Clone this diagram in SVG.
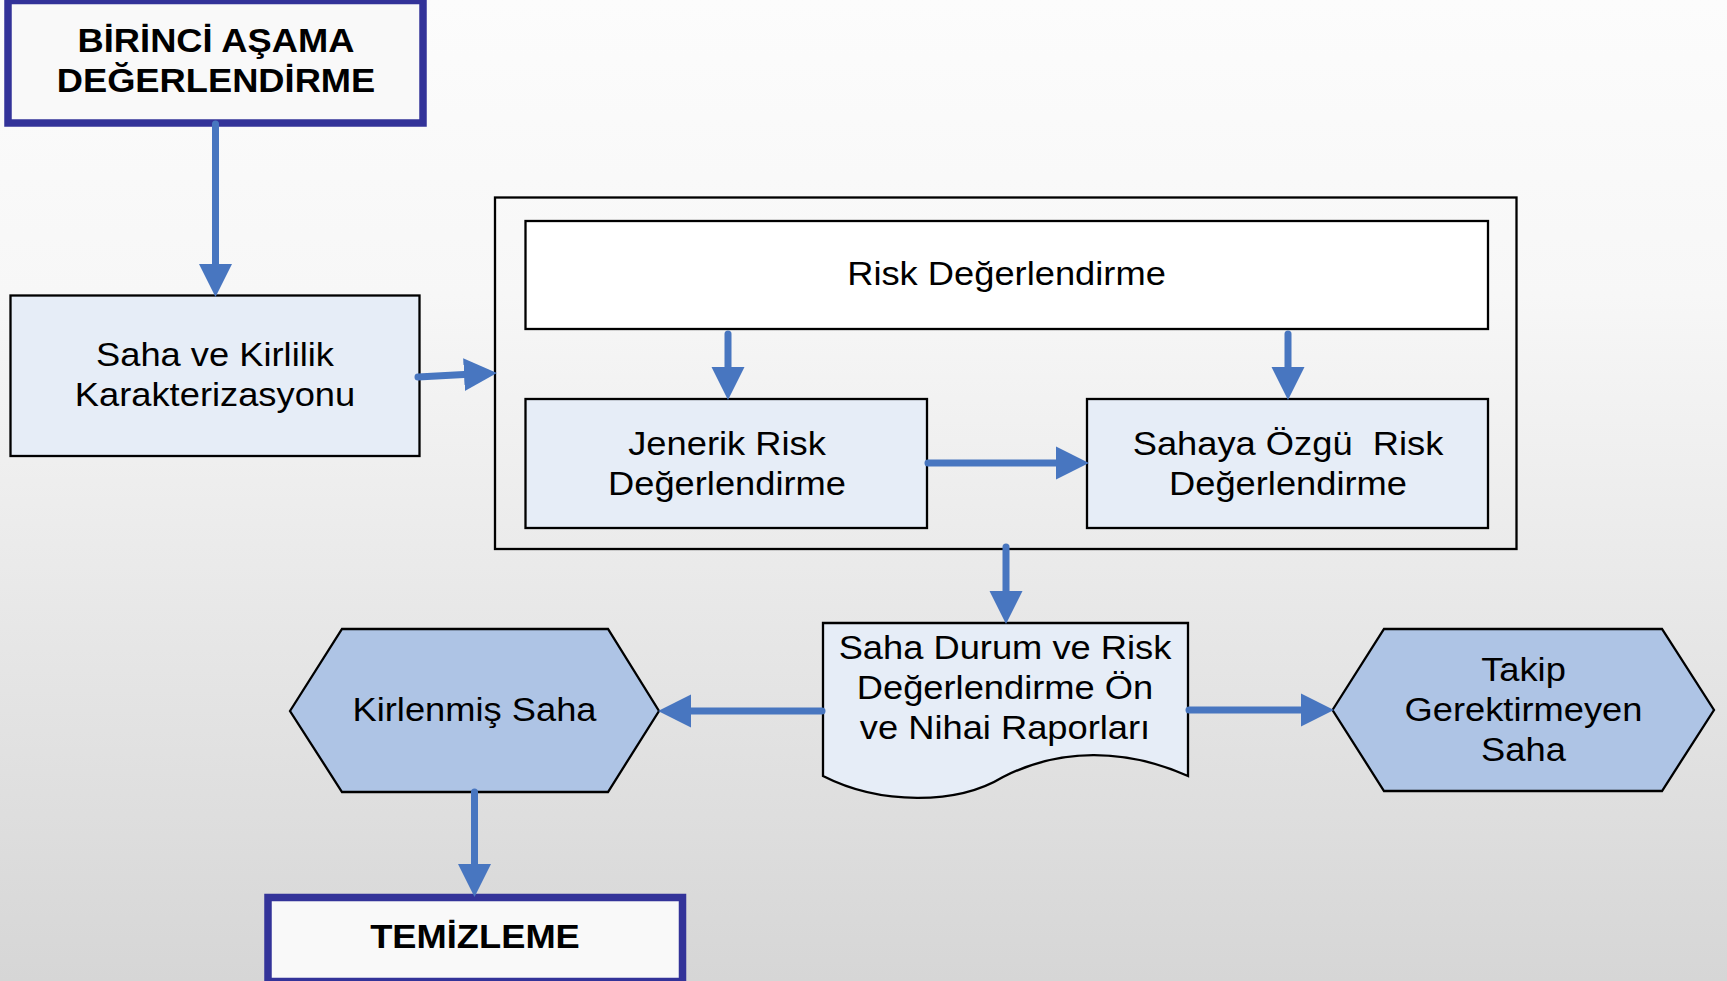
<svg xmlns="http://www.w3.org/2000/svg" width="1727" height="981" viewBox="0 0 1727 981">
<defs>
<linearGradient id="bg" x1="0" y1="0" x2="0" y2="1">
<stop offset="0" stop-color="#fcfcfc"/>
<stop offset="0.3" stop-color="#f7f7f7"/>
<stop offset="1" stop-color="#d6d6d6"/>
</linearGradient>
<marker id="ah" markerUnits="userSpaceOnUse" markerWidth="34" markerHeight="34" viewBox="0 -16 32 32" refX="0" refY="0" orient="auto">
<path d="M0,-15.5 L31,0 L0,15.5 Z" fill="#4876c0"/>
</marker>
<style>
.t{font-family:"Liberation Sans",Arial,sans-serif;font-size:32.5px;fill:#000;text-anchor:middle;white-space:pre}
.b{font-weight:bold}
.main{fill:#f9f9f9;stroke:#333399;stroke-width:7.5}
.box{fill:#e6edf7;stroke:#000;stroke-width:2.3}
.white{fill:#ffffff;stroke:#000;stroke-width:2.3}
.cont{fill:none;stroke:#000;stroke-width:2.3}
.hex{fill:#aec4e5;stroke:#000;stroke-width:2.3;stroke-linejoin:miter}
.c{fill:none;stroke:#4876c0;stroke-width:7;stroke-linecap:round;marker-end:url(#ah)}
</style>
</defs>
<rect x="0" y="0" width="1727" height="981" fill="url(#bg)"/>

<g id="container">
<rect class="cont" x="495" y="197.5" width="1021.5" height="351.5"/>
</g>

<g id="birinci">
<rect class="main" x="8" y="0.5" width="415" height="122.5"/>
<text class="t b" transform="matrix(1.117 0 0 1 216 0)" x="0" y="52">BİRİNCİ AŞAMA</text>
<text class="t b" transform="matrix(1.117 0 0 1 216 0)" x="0" y="92">DEĞERLENDİRME</text>
</g>

<g id="saha">
<rect class="box" x="10.5" y="295.5" width="409" height="160.5"/>
<text class="t" transform="matrix(1.117 0 0 1 215 0)" x="0" y="366">Saha ve Kirlilik</text>
<text class="t" transform="matrix(1.117 0 0 1 215 0)" x="0" y="406">Karakterizasyonu</text>
</g>

<g id="risk">
<rect class="white" x="525.5" y="221" width="962.5" height="108"/>
<text class="t" transform="matrix(1.117 0 0 1 1006.5 0)" x="0" y="285">Risk Değerlendirme</text>
</g>

<g id="jenerik">
<rect class="box" x="525.5" y="399" width="401.5" height="129"/>
<text class="t" transform="matrix(1.117 0 0 1 727 0)" x="0" y="455">Jenerik Risk</text>
<text class="t" transform="matrix(1.117 0 0 1 727 0)" x="0" y="495">Değerlendirme</text>
</g>

<g id="sahaya">
<rect class="box" x="1087" y="399" width="401" height="129"/>
<text class="t" transform="matrix(1.117 0 0 1 1288 0)" x="0" y="455">Sahaya Özgü  Risk</text>
<text class="t" transform="matrix(1.117 0 0 1 1288 0)" x="0" y="495">Değerlendirme</text>
</g>

<g id="rapor">
<path class="box" d="M823,623 H1188 V776 C1125,748 1060,748 1003,777 C957,805 880,805 823,776 Z"/>
<text class="t" transform="matrix(1.117 0 0 1 1005 0)" x="0" y="659">Saha Durum ve Risk</text>
<text class="t" transform="matrix(1.117 0 0 1 1005 0)" x="0" y="699">Değerlendirme Ön</text>
<text class="t" transform="matrix(1.117 0 0 1 1005 0)" x="0" y="739">ve Nihai Raporları</text>
</g>

<g id="kirlenmis">
<polygon class="hex" points="290,711 342,629 608,629 659,711 608,792 342,792"/>
<text class="t" transform="matrix(1.117 0 0 1 474.5 0)" x="0" y="721">Kirlenmiş Saha</text>
</g>

<g id="takip">
<polygon class="hex" points="1332.5,710 1384,629 1662,629 1714,710 1662,791 1384,791"/>
<text class="t" transform="matrix(1.117 0 0 1 1523.5 0)" x="0" y="681">Takip</text>
<text class="t" transform="matrix(1.117 0 0 1 1523.5 0)" x="0" y="721">Gerektirmeyen</text>
<text class="t" transform="matrix(1.117 0 0 1 1523.5 0)" x="0" y="761">Saha</text>
</g>

<g id="temizleme">
<rect class="main" x="268" y="897.5" width="414.5" height="84"/>
<text class="t b" transform="matrix(1.117 0 0 1 475 0)" x="0" y="948">TEMİZLEME</text>
</g>

<g id="connectors">
<path class="c" d="M215.5,124 V264"/>
<path class="c" d="M418,377 L464,374.6"/>
<path class="c" d="M728,334 V367"/>
<path class="c" d="M1288,334 V367"/>
<path class="c" d="M928,463 H1056"/>
<path class="c" d="M1006,547 V591"/>
<path class="c" d="M822,711 H691"/>
<path class="c" d="M1189,710 H1301"/>
<path class="c" d="M474.5,792 V864"/>
</g>
</svg>
